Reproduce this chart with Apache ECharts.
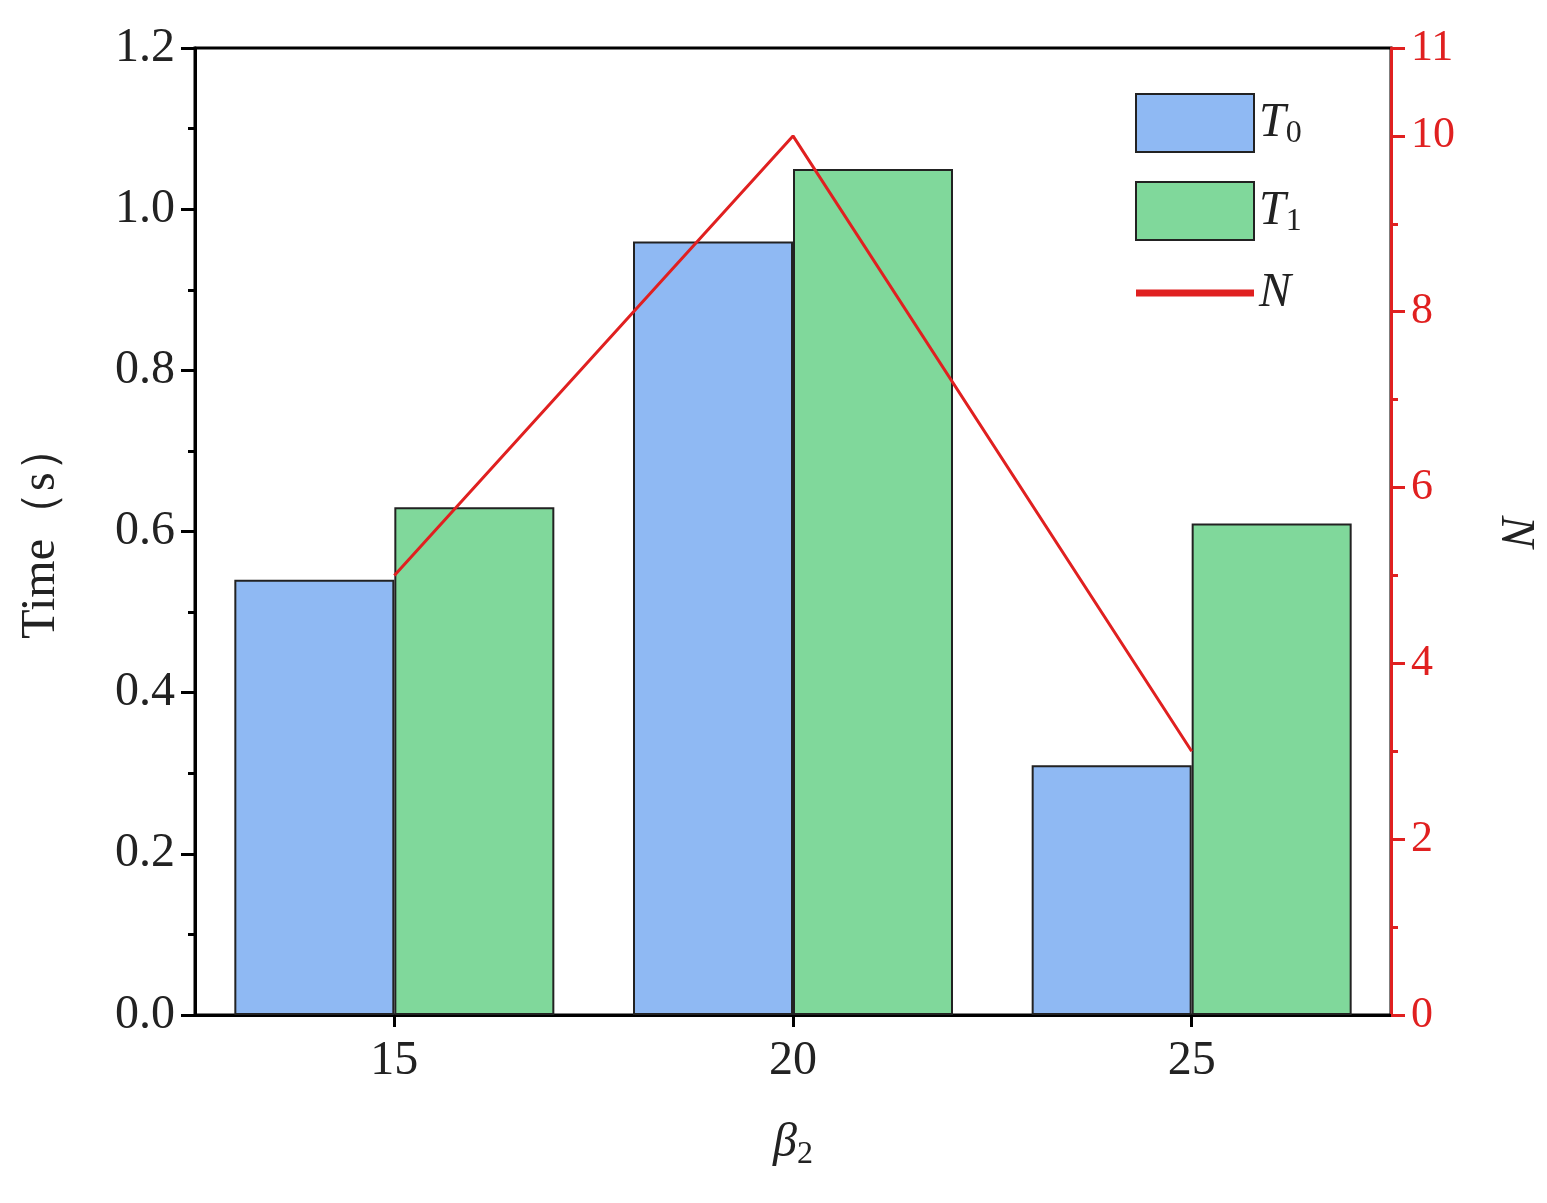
<!DOCTYPE html>
<html>
<head>
<meta charset="utf-8">
<script src="https://cdn.jsdelivr.net/npm/echarts@6/dist/echarts.min.js"></script>
<style>html,body{margin:0;padding:0;background:#fff}#chart{width:1547px;height:1203px}</style>
</head>
<body>
<div id="chart"></div>
<script>
var categories = ['15', '20', '25'];
var t0 = [0.54, 0.96, 0.31];
var t1 = [0.63, 1.05, 0.61];
var nVals = [5, 10, 3];

var font = 'Liberation Serif';
var myChart = echarts.init(document.getElementById('chart'));
var option = {
    backgroundColor: '#fff',
    textStyle: { fontFamily: font },
    grid: { left: 195, right: 154, top: 48, bottom: 188, show: true, borderColor: '#000', borderWidth: 3 },
    legend: {
        orient: 'vertical', left: 1130, top: 88, itemWidth: 118, itemHeight: 58, itemGap: 28,
        textStyle: { fontFamily: font, fontSize: 48, fontStyle: 'italic', color: '#222',
            rich: { s: { fontSize: 32, fontStyle: 'normal', verticalAlign: 'bottom', padding: [22, 0, 0, 0] },
                    b: { fontSize: 48, fontStyle: 'italic' } } },
        formatter: function (n) {
            if (n === 'T0') return '{b|T}{s|0}';
            if (n === 'T1') return '{b|T}{s|1}';
            return '{b|N}';
        },
        data: [{ name: 'T0', icon: 'rect' }, { name: 'T1', icon: 'rect' }, { name: 'N', icon: 'path://M0,0 L10,0 L10,0.6 L0,0.6 Z' }]
    },
    xAxis: {
        type: 'category', data: categories,
        name: '{b|β}{s|2}', nameLocation: 'middle', nameGap: 100,
        nameTextStyle: { rich: { b: { fontSize: 48, fontStyle: 'italic', fontFamily: font, color: '#222' },
                                 s: { fontSize: 32, fontFamily: font, color: '#222', padding: [24, 0, 0, 0] } } },
        axisLine: { lineStyle: { color: '#000', width: 3 } },
        axisTick: { show: true, alignWithLabel: true, length: 12, lineStyle: { width: 3 } },
        minorTick: { show: true },
        axisLabel: { fontSize: 48, color: '#222', margin: 22, fontFamily: font }
    },
    yAxis: [{
        type: 'value', min: 0, max: 1.2, interval: 0.2,
        name: 'Time（s）', nameLocation: 'middle', nameGap: 130, nameRotate: 90,
        nameTextStyle: { fontSize: 48, color: '#222', fontFamily: font },
        axisLine: { show: true, lineStyle: { color: '#000', width: 3 } },
        axisTick: { show: true, length: 14, lineStyle: { width: 3 } },
        minorTick: { show: true, splitNumber: 2, length: 7, lineStyle: { color: '#000', width: 3 } },
        splitLine: { show: false },
        axisLabel: { fontSize: 48, color: '#222', margin: 20, fontFamily: font, formatter: function (v) { return v.toFixed(1); } }
    }, {
        type: 'value', min: 0, max: 11, interval: 2, position: 'right',
        name: 'N', nameLocation: 'middle', nameGap: 100, nameRotate: -90,
        nameTextStyle: { fontSize: 48, fontStyle: 'italic', color: '#222', fontFamily: font },
        axisLine: { show: true, lineStyle: { color: '#e02020', width: 3 } },
        axisTick: { show: true, length: 14, lineStyle: { color: '#e02020', width: 3 } },
        minorTick: { show: true, splitNumber: 2, length: 7, lineStyle: { color: '#e02020', width: 3 } },
        splitLine: { show: false },
        axisLabel: { fontSize: 44, color: '#e02020', margin: 20, fontFamily: font }
    }],
    series: [{
        name: 'T0', type: 'bar', data: t0, barWidth: 160, barGap: '0%',
        itemStyle: { color: '#8fb9f3', borderColor: '#222', borderWidth: 2 }
    }, {
        name: 'T1', type: 'bar', data: t1, barWidth: 160,
        itemStyle: { color: '#80d89b', borderColor: '#222', borderWidth: 2 }
    }, {
        name: 'N', type: 'line', yAxisIndex: 1, data: nVals, symbol: 'none', z: 5,
        lineStyle: { color: '#e02020', width: 3 }, itemStyle: { color: '#e02020' }
    }]
};
myChart.setOption(option);
</script>
</body>
</html>
